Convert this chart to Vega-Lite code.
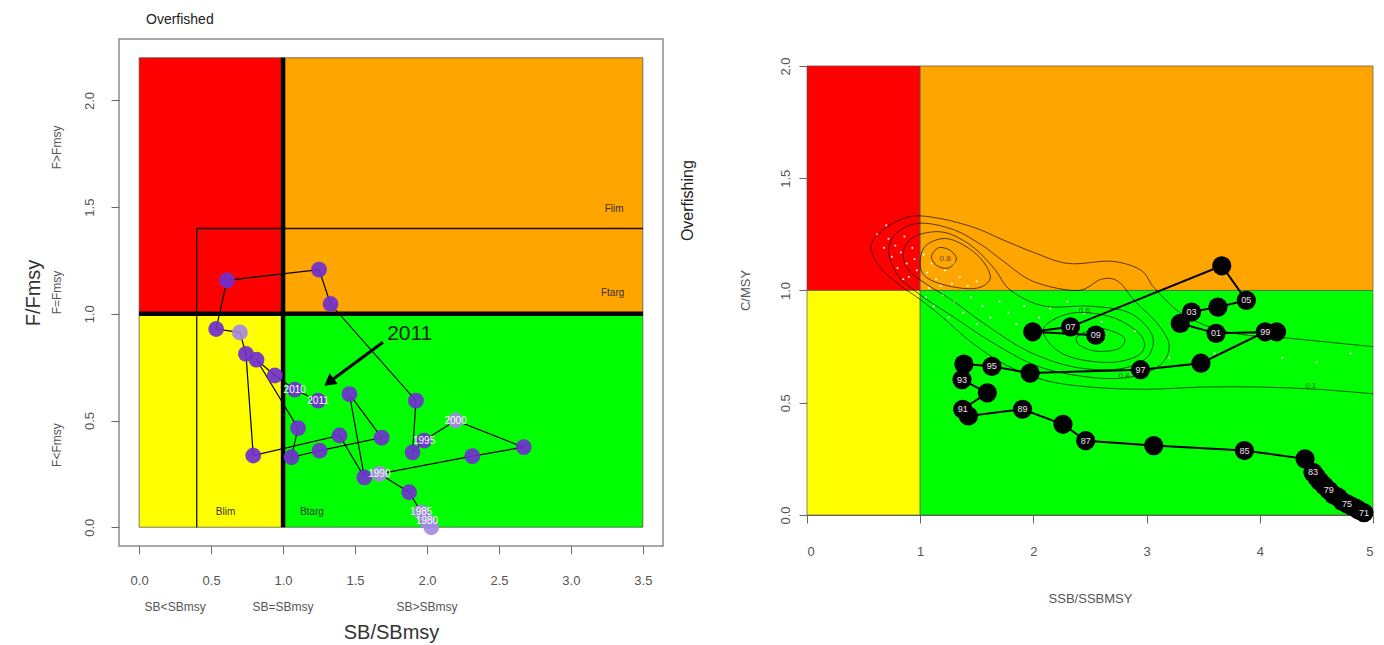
{
  "$schema": "https://vega.github.io/schema/vega-lite/v6.json",
  "background": "white",
  "padding": {"left": 22, "top": 12, "right": 0, "bottom": 0},
  "spacing": 16,
  "config": {
    "font": "Liberation Sans",
    "view": {"stroke": null},
    "axis": {"grid": false, "labelFont": "Liberation Sans", "titleFont": "Liberation Sans"},
    "title": {"font": "Liberation Sans"}
  },
  "datasets": {
    "leftPath": [
      {"ord": 1, "x": 2.03, "y": 0.0, "lab": "", "shade": "light"},
      {"ord": 2, "x": 2.0, "y": 0.03, "lab": "1980", "shade": "light"},
      {"ord": 3, "x": 1.96, "y": 0.07, "lab": "1985", "shade": "light"},
      {"ord": 4, "x": 1.876, "y": 0.164, "lab": "", "shade": "dark"},
      {"ord": 5, "x": 1.669, "y": 0.25, "lab": "1990", "shade": "light"},
      {"ord": 6, "x": 2.315, "y": 0.333, "lab": "", "shade": "dark"},
      {"ord": 7, "x": 2.672, "y": 0.375, "lab": "", "shade": "dark"},
      {"ord": 8, "x": 2.199, "y": 0.5, "lab": "2000", "shade": "light"},
      {"ord": 9, "x": 1.98, "y": 0.406, "lab": "1995", "shade": "dark"},
      {"ord": 10, "x": 1.9, "y": 0.351, "lab": "", "shade": "dark"},
      {"ord": 11, "x": 1.923, "y": 0.593, "lab": "", "shade": "dark"},
      {"ord": 12, "x": 1.33, "y": 1.046, "lab": "", "shade": "dark"},
      {"ord": 13, "x": 1.25, "y": 1.207, "lab": "", "shade": "dark"},
      {"ord": 14, "x": 0.61, "y": 1.157, "lab": "", "shade": "dark"},
      {"ord": 15, "x": 0.535, "y": 0.929, "lab": "", "shade": "dark"},
      {"ord": 16, "x": 0.7, "y": 0.913, "lab": "", "shade": "light"},
      {"ord": 17, "x": 0.742, "y": 0.812, "lab": "", "shade": "dark"},
      {"ord": 18, "x": 0.793, "y": 0.336, "lab": "", "shade": "dark"},
      {"ord": 19, "x": 1.392, "y": 0.43, "lab": "", "shade": "dark"},
      {"ord": 20, "x": 1.565, "y": 0.234, "lab": "", "shade": "dark"},
      {"ord": 21, "x": 1.461, "y": 0.624, "lab": "", "shade": "dark"},
      {"ord": 22, "x": 1.685, "y": 0.42, "lab": "", "shade": "dark"},
      {"ord": 23, "x": 1.254, "y": 0.359, "lab": "", "shade": "dark"},
      {"ord": 24, "x": 1.058, "y": 0.328, "lab": "", "shade": "dark"},
      {"ord": 25, "x": 1.104, "y": 0.464, "lab": "", "shade": "dark"},
      {"ord": 26, "x": 0.816, "y": 0.785, "lab": "", "shade": "dark"},
      {"ord": 27, "x": 0.943, "y": 0.711, "lab": "", "shade": "dark"},
      {"ord": 28, "x": 1.081, "y": 0.645, "lab": "2010", "shade": "dark"},
      {"ord": 29, "x": 1.243, "y": 0.593, "lab": "2011", "shade": "dark"}
    ],
    "rightPath": [
      {"yr": 1971, "x": 4.92, "y": 0.01, "lab": "71"},
      {"yr": 1972, "x": 4.88, "y": 0.02, "lab": ""},
      {"yr": 1973, "x": 4.85, "y": 0.03, "lab": ""},
      {"yr": 1974, "x": 4.81, "y": 0.04, "lab": ""},
      {"yr": 1975, "x": 4.77, "y": 0.05, "lab": "75"},
      {"yr": 1976, "x": 4.73, "y": 0.06, "lab": ""},
      {"yr": 1977, "x": 4.69, "y": 0.08, "lab": ""},
      {"yr": 1978, "x": 4.65, "y": 0.09, "lab": ""},
      {"yr": 1979, "x": 4.61, "y": 0.11, "lab": "79"},
      {"yr": 1980, "x": 4.57, "y": 0.13, "lab": ""},
      {"yr": 1981, "x": 4.53, "y": 0.15, "lab": ""},
      {"yr": 1982, "x": 4.5, "y": 0.17, "lab": ""},
      {"yr": 1983, "x": 4.47, "y": 0.19, "lab": "83"},
      {"yr": 1984, "x": 4.4, "y": 0.25, "lab": ""},
      {"yr": 1985, "x": 3.864, "y": 0.287, "lab": "85"},
      {"yr": 1986, "x": 3.063, "y": 0.309, "lab": ""},
      {"yr": 1987, "x": 2.462, "y": 0.331, "lab": "87"},
      {"yr": 1988, "x": 2.261, "y": 0.404, "lab": ""},
      {"yr": 1989, "x": 1.904, "y": 0.471, "lab": "89"},
      {"yr": 1990, "x": 1.426, "y": 0.441, "lab": ""},
      {"yr": 1991, "x": 1.376, "y": 0.471, "lab": "91"},
      {"yr": 1992, "x": 1.593, "y": 0.544, "lab": ""},
      {"yr": 1993, "x": 1.369, "y": 0.603, "lab": "93"},
      {"yr": 1994, "x": 1.386, "y": 0.672, "lab": ""},
      {"yr": 1995, "x": 1.633, "y": 0.662, "lab": "95"},
      {"yr": 1996, "x": 1.971, "y": 0.632, "lab": ""},
      {"yr": 1997, "x": 2.946, "y": 0.647, "lab": "97"},
      {"yr": 1998, "x": 3.48, "y": 0.676, "lab": ""},
      {"yr": 1999, "x": 4.048, "y": 0.816, "lab": "99"},
      {"yr": 2000, "x": 4.148, "y": 0.816, "lab": ""},
      {"yr": 2001, "x": 3.614, "y": 0.809, "lab": "01"},
      {"yr": 2002, "x": 3.297, "y": 0.853, "lab": ""},
      {"yr": 2003, "x": 3.397, "y": 0.904, "lab": "03"},
      {"yr": 2004, "x": 3.63, "y": 0.926, "lab": ""},
      {"yr": 2005, "x": 3.881, "y": 0.956, "lab": "05"},
      {"yr": 2006, "x": 3.664, "y": 1.11, "lab": ""},
      {"yr": 2007, "x": 2.328, "y": 0.838, "lab": "07"},
      {"yr": 2008, "x": 1.994, "y": 0.816, "lab": ""},
      {"yr": 2009, "x": 2.551, "y": 0.801, "lab": "09"}
    ],
    "outer": [
      {"o": 1, "x": 5.0, "y": 0.75}, {"o": 2, "x": 4.6, "y": 0.77}, {"o": 3, "x": 4.2, "y": 0.79},
      {"o": 4, "x": 3.9, "y": 0.8}, {"o": 5, "x": 3.6, "y": 0.83}, {"o": 6, "x": 3.3, "y": 0.9},
      {"o": 7, "x": 3.07, "y": 1.01}, {"o": 8, "x": 2.95, "y": 1.09}, {"o": 9, "x": 2.69, "y": 1.13},
      {"o": 10, "x": 2.31, "y": 1.12}, {"o": 11, "x": 2.0, "y": 1.17}, {"o": 12, "x": 1.71, "y": 1.23},
      {"o": 13, "x": 1.48, "y": 1.28}, {"o": 14, "x": 1.18, "y": 1.32}, {"o": 15, "x": 0.92, "y": 1.33},
      {"o": 16, "x": 0.7, "y": 1.28}, {"o": 17, "x": 0.565, "y": 1.2}, {"o": 18, "x": 0.65, "y": 1.1},
      {"o": 19, "x": 0.83, "y": 1.02}, {"o": 20, "x": 1.0, "y": 0.96}, {"o": 21, "x": 1.2, "y": 0.88},
      {"o": 22, "x": 1.45, "y": 0.77}, {"o": 23, "x": 1.75, "y": 0.67}, {"o": 24, "x": 2.1, "y": 0.6},
      {"o": 25, "x": 2.5, "y": 0.57}, {"o": 26, "x": 3.0, "y": 0.56}, {"o": 27, "x": 3.5, "y": 0.57},
      {"o": 28, "x": 4.0, "y": 0.57}, {"o": 29, "x": 4.5, "y": 0.56}, {"o": 30, "x": 5.0, "y": 0.54}
    ],
    "loops": [
      {"cid": "a", "o": 1, "x": 0.72, "y": 1.18}, {"cid": "a", "o": 2, "x": 0.8, "y": 1.26},
      {"cid": "a", "o": 3, "x": 1.0, "y": 1.3}, {"cid": "a", "o": 4, "x": 1.3, "y": 1.27},
      {"cid": "a", "o": 5, "x": 1.55, "y": 1.2}, {"cid": "a", "o": 6, "x": 1.71, "y": 1.14},
      {"cid": "a", "o": 7, "x": 2.0, "y": 1.04}, {"cid": "a", "o": 8, "x": 2.39, "y": 1.0},
      {"cid": "a", "o": 9, "x": 2.6, "y": 1.05}, {"cid": "a", "o": 10, "x": 2.75, "y": 1.04},
      {"cid": "a", "o": 11, "x": 2.9, "y": 0.95}, {"cid": "a", "o": 12, "x": 3.1, "y": 0.85},
      {"cid": "a", "o": 13, "x": 3.2, "y": 0.75}, {"cid": "a", "o": 14, "x": 3.1, "y": 0.66},
      {"cid": "a", "o": 15, "x": 2.8, "y": 0.61}, {"cid": "a", "o": 16, "x": 2.4, "y": 0.62},
      {"cid": "a", "o": 17, "x": 2.0, "y": 0.67}, {"cid": "a", "o": 18, "x": 1.6, "y": 0.78},
      {"cid": "a", "o": 19, "x": 1.3, "y": 0.88}, {"cid": "a", "o": 20, "x": 1.0, "y": 0.98},
      {"cid": "a", "o": 21, "x": 0.8, "y": 1.07},
      {"cid": "b", "o": 1, "x": 0.85, "y": 1.17}, {"cid": "b", "o": 2, "x": 0.95, "y": 1.24},
      {"cid": "b", "o": 3, "x": 1.2, "y": 1.26}, {"cid": "b", "o": 4, "x": 1.45, "y": 1.2},
      {"cid": "b", "o": 5, "x": 1.65, "y": 1.1}, {"cid": "b", "o": 6, "x": 1.8, "y": 1.0},
      {"cid": "b", "o": 7, "x": 2.1, "y": 0.93}, {"cid": "b", "o": 8, "x": 2.5, "y": 0.93},
      {"cid": "b", "o": 9, "x": 2.85, "y": 0.9}, {"cid": "b", "o": 10, "x": 3.05, "y": 0.8},
      {"cid": "b", "o": 11, "x": 3.0, "y": 0.7}, {"cid": "b", "o": 12, "x": 2.75, "y": 0.65},
      {"cid": "b", "o": 13, "x": 2.35, "y": 0.66}, {"cid": "b", "o": 14, "x": 1.95, "y": 0.73},
      {"cid": "b", "o": 15, "x": 1.6, "y": 0.84}, {"cid": "b", "o": 16, "x": 1.3, "y": 0.95},
      {"cid": "b", "o": 17, "x": 1.05, "y": 1.03}, {"cid": "b", "o": 18, "x": 0.9, "y": 1.09},
      {"cid": "c", "o": 1, "x": 1.0, "y": 1.12}, {"cid": "c", "o": 2, "x": 1.05, "y": 1.2},
      {"cid": "c", "o": 3, "x": 1.25, "y": 1.23}, {"cid": "c", "o": 4, "x": 1.5, "y": 1.16},
      {"cid": "c", "o": 5, "x": 1.62, "y": 1.06}, {"cid": "c", "o": 6, "x": 1.5, "y": 1.01},
      {"cid": "c", "o": 7, "x": 1.25, "y": 1.02}, {"cid": "c", "o": 8, "x": 1.05, "y": 1.06},
      {"cid": "d", "o": 1, "x": 1.1, "y": 1.15}, {"cid": "d", "o": 2, "x": 1.16, "y": 1.19},
      {"cid": "d", "o": 3, "x": 1.26, "y": 1.18}, {"cid": "d", "o": 4, "x": 1.32, "y": 1.14},
      {"cid": "d", "o": 5, "x": 1.25, "y": 1.1}, {"cid": "d", "o": 6, "x": 1.15, "y": 1.11},
      {"cid": "e", "o": 1, "x": 2.1, "y": 0.84}, {"cid": "e", "o": 2, "x": 2.35, "y": 0.9},
      {"cid": "e", "o": 3, "x": 2.7, "y": 0.88}, {"cid": "e", "o": 4, "x": 2.95, "y": 0.8},
      {"cid": "e", "o": 5, "x": 2.95, "y": 0.72}, {"cid": "e", "o": 6, "x": 2.7, "y": 0.68},
      {"cid": "e", "o": 7, "x": 2.35, "y": 0.7}, {"cid": "e", "o": 8, "x": 2.15, "y": 0.76},
      {"cid": "f", "o": 1, "x": 2.4, "y": 0.8}, {"cid": "f", "o": 2, "x": 2.6, "y": 0.83},
      {"cid": "f", "o": 3, "x": 2.8, "y": 0.79}, {"cid": "f", "o": 4, "x": 2.75, "y": 0.74},
      {"cid": "f", "o": 5, "x": 2.55, "y": 0.73}, {"cid": "f", "o": 6, "x": 2.4, "y": 0.76}
    ],
    "dots": [
      {"x": 0.62, "y": 1.25}, {"x": 0.68, "y": 1.19}, {"x": 0.72, "y": 1.23}, {"x": 0.75, "y": 1.15},
      {"x": 0.78, "y": 1.2}, {"x": 0.8, "y": 1.1}, {"x": 0.83, "y": 1.17}, {"x": 0.86, "y": 1.24},
      {"x": 0.88, "y": 1.12}, {"x": 0.9, "y": 1.06}, {"x": 0.93, "y": 1.19}, {"x": 0.95, "y": 1.14},
      {"x": 0.97, "y": 1.09}, {"x": 0.7, "y": 1.29}, {"x": 0.85, "y": 1.05},
      {"x": 1.03, "y": 1.16}, {"x": 1.06, "y": 1.08}, {"x": 1.1, "y": 1.12}, {"x": 1.14, "y": 1.05},
      {"x": 1.18, "y": 1.02}, {"x": 1.22, "y": 1.09}, {"x": 1.28, "y": 1.03}, {"x": 1.35, "y": 1.06},
      {"x": 1.42, "y": 1.02}, {"x": 1.5, "y": 1.04}, {"x": 1.08, "y": 1.01}, {"x": 1.3, "y": 1.12},
      {"x": 1.05, "y": 0.97}, {"x": 1.12, "y": 0.93}, {"x": 1.2, "y": 0.98}, {"x": 1.3, "y": 0.95},
      {"x": 1.38, "y": 0.9}, {"x": 1.45, "y": 0.97}, {"x": 1.55, "y": 0.93}, {"x": 1.62, "y": 0.88},
      {"x": 1.7, "y": 0.95}, {"x": 1.78, "y": 0.9}, {"x": 1.85, "y": 0.85}, {"x": 1.92, "y": 0.93},
      {"x": 2.05, "y": 0.88}, {"x": 2.15, "y": 0.92}, {"x": 2.3, "y": 0.95}, {"x": 2.45, "y": 0.9},
      {"x": 2.6, "y": 0.86}, {"x": 1.5, "y": 0.85}, {"x": 1.25, "y": 0.88},
      {"x": 2.9, "y": 0.82}, {"x": 3.2, "y": 0.7}, {"x": 3.6, "y": 0.72}, {"x": 4.2, "y": 0.7},
      {"x": 4.5, "y": 0.68}, {"x": 4.8, "y": 0.72}
    ]
  },
  "hconcat": [
    {
      "width": 544,
      "height": 507,
      "view": {"stroke": "#8a8a8a", "strokeWidth": 1.5},
      "title": {"text": "Overfished", "anchor": "start", "frame": "group", "fontSize": 14, "fontWeight": "normal", "color": "#222", "dx": 27, "offset": 12},
      "encoding": {
        "x": {
          "field": "x", "type": "quantitative",
          "scale": {"domain": [-0.14, 3.64], "nice": false, "zero": false},
          "axis": {"title": "SB/SBmsy", "values": [0, 0.5, 1, 1.5, 2, 2.5, 3, 3.5], "format": ".1f", "domain": false,
                   "tickSize": 8, "tickColor": "#666", "labelColor": "#555", "labelFontSize": 13, "labelPadding": 20,
                   "titleFontSize": 20, "titleColor": "#333", "titleFontWeight": "normal", "titlePadding": 35}
        },
        "y": {
          "field": "y", "type": "quantitative",
          "scale": {"domain": [-0.088, 2.288], "nice": false, "zero": false},
          "axis": {"title": "F/Fmsy", "values": [0, 0.5, 1, 1.5, 2], "format": ".1f", "domain": false,
                   "tickSize": 8, "tickColor": "#666", "labelColor": "#555", "labelFontSize": 13, "labelAngle": 270, "labelPadding": 15,
                   "titleFontSize": 20, "titleColor": "#333", "titleFontWeight": "normal", "titlePadding": 40}
        }
      },
      "layer": [
        {
          "data": {"values": [
            {"x": 0, "x2": 1, "y": 1, "y2": 2.2, "zone": "red"},
            {"x": 1, "x2": 3.5, "y": 1, "y2": 2.2, "zone": "orange"},
            {"x": 0, "x2": 1, "y": 0, "y2": 1, "zone": "yellow"},
            {"x": 1, "x2": 3.5, "y": 0, "y2": 1, "zone": "green"}
          ]},
          "mark": {"type": "rect", "stroke": "#555", "strokeWidth": 0.8},
          "encoding": {
            "x2": {"field": "x2"}, "y2": {"field": "y2"},
            "color": {"field": "zone", "type": "nominal", "scale": {"domain": ["red", "orange", "yellow", "green"], "range": ["#ff0000", "#ffa500", "#ffff00", "#00ff00"]}, "legend": null}
          }
        },
        {
          "data": {"values": [{"x": 0.4, "y": 0, "x2": 0.4, "y2": 1.4}, {"x": 0.4, "y": 1.4, "x2": 3.5, "y2": 1.4}]},
          "mark": {"type": "rule", "color": "#111", "strokeWidth": 1.3},
          "encoding": {"x2": {"field": "x2"}, "y2": {"field": "y2"}}
        },
        {
          "data": {"values": [{"x": 1, "y": 0, "x2": 1, "y2": 2.2}, {"x": 0, "y": 1, "x2": 3.5, "y2": 1}]},
          "mark": {"type": "rule", "color": "#000", "strokeWidth": 4.5},
          "encoding": {"x2": {"field": "x2"}, "y2": {"field": "y2"}}
        },
        {
          "data": {"values": [
            {"x": 0.6, "y": 0.07, "t": "Blim"}, {"x": 1.2, "y": 0.07, "t": "Btarg"},
            {"x": 3.3, "y": 1.49, "t": "Flim"}, {"x": 3.29, "y": 1.1, "t": "Ftarg"}
          ]},
          "mark": {"type": "text", "fontSize": 10, "color": "#333"},
          "encoding": {"text": {"field": "t"}}
        },
        {
          "data": {"name": "leftPath"},
          "mark": {"type": "line", "color": "#000", "strokeWidth": 1.2},
          "encoding": {"order": {"field": "ord", "type": "quantitative"}}
        },
        {
          "data": {"name": "leftPath"},
          "mark": {"type": "circle", "size": 250, "opacity": 0.92},
          "encoding": {"fill": {"field": "shade", "type": "nominal", "scale": {"domain": ["dark", "light"], "range": ["#7030d0", "#a58ae2"]}, "legend": null}}
        },
        {
          "data": {"name": "leftPath"},
          "transform": [{"filter": "datum.lab != ''"}],
          "mark": {"type": "text", "color": "#ffffff", "fontSize": 10},
          "encoding": {"text": {"field": "lab"}}
        },
        {
          "data": {"values": [{"x": 1.694, "y": 0.867, "x2": 1.34, "y2": 0.69}]},
          "mark": {"type": "rule", "color": "#000", "strokeWidth": 3},
          "encoding": {"x2": {"field": "x2"}, "y2": {"field": "y2"}}
        },
        {
          "data": {"values": [{"x": 1.33, "y": 0.685}]},
          "mark": {"type": "point", "shape": "triangle", "angle": 233, "size": 180, "filled": true, "color": "#000", "opacity": 1}
        },
        {
          "data": {"values": [{"x": 1.88, "y": 0.904, "t": "2011"}]},
          "mark": {"type": "text", "fontSize": 21, "color": "#222"},
          "encoding": {"text": {"field": "t"}}
        },
        {
          "data": {"values": [
            {"x": -0.57, "y": 1.78, "t": "F>Fmsy"}, {"x": -0.57, "y": 1.1, "t": "F=Fmsy"}, {"x": -0.57, "y": 0.385, "t": "F<Fmsy"}
          ]},
          "mark": {"type": "text", "angle": 270, "fontSize": 12, "color": "#555"},
          "encoding": {"text": {"field": "t"}}
        },
        {
          "data": {"values": [
            {"x": 0.25, "y": -0.375, "t": "SB<SBmsy"}, {"x": 1.0, "y": -0.375, "t": "SB=SBmsy"}, {"x": 2.0, "y": -0.375, "t": "SB>SBmsy"}
          ]},
          "mark": {"type": "text", "fontSize": 12, "color": "#555"},
          "encoding": {"text": {"field": "t"}}
        }
      ]
    },
    {
      "width": 566,
      "height": 476,
      "encoding": {
        "x": {
          "field": "x", "type": "quantitative",
          "scale": {"domain": [0, 5], "nice": false, "zero": false},
          "axis": {"title": "SSB/SSBMSY", "values": [0, 1, 2, 3, 4, 5], "format": "d", "domainColor": "#666",
                   "tickSize": 8, "tickColor": "#666", "labelColor": "#555", "labelFontSize": 13, "labelPadding": 22,
                   "titleFontSize": 13, "titleColor": "#555", "titleFontWeight": "normal", "titlePadding": 34}
        },
        "y": {
          "field": "y", "type": "quantitative",
          "scale": {"domain": [0, 2.12], "nice": false, "zero": false},
          "axis": {"title": null, "values": [0, 0.5, 1, 1.5, 2], "format": ".1f", "domain": false,
                   "tickSize": 8, "tickColor": "#666", "labelColor": "#555", "labelFontSize": 13, "labelAngle": 270, "labelPadding": 7}
        }
      },
      "layer": [
        {
          "data": {"values": [
            {"x": 0, "x2": 1, "y": 1, "y2": 2, "zone": "red"},
            {"x": 1, "x2": 5, "y": 1, "y2": 2, "zone": "orange"},
            {"x": 0, "x2": 1, "y": 0, "y2": 1, "zone": "yellow"},
            {"x": 1, "x2": 5, "y": 0, "y2": 1, "zone": "green"}
          ]},
          "mark": {"type": "rect", "stroke": "#555", "strokeWidth": 0.7},
          "encoding": {
            "x2": {"field": "x2"}, "y2": {"field": "y2"},
            "color": {"field": "zone", "type": "nominal", "scale": {"domain": ["red", "orange", "yellow", "green"], "range": ["#ff0000", "#ffa500", "#ffff00", "#00ff00"]}, "legend": null}
          }
        },
        {
          "data": {"name": "dots"},
          "mark": {"type": "circle", "size": 5, "color": "#ffffff", "opacity": 0.85}
        },
        {
          "data": {"name": "outer"},
          "mark": {"type": "line", "color": "#000", "strokeWidth": 1, "opacity": 0.65, "interpolate": "cardinal"},
          "encoding": {"order": {"field": "o", "type": "quantitative"}}
        },
        {
          "data": {"name": "loops"},
          "mark": {"type": "line", "color": "#000", "strokeWidth": 1, "opacity": 0.65, "interpolate": "cardinal-closed"},
          "encoding": {"order": {"field": "o", "type": "quantitative"}, "detail": {"field": "cid", "type": "nominal"}}
        },
        {
          "data": {"values": [
            {"x": 4.45, "y": 0.575, "t": "0.1"}, {"x": 2.8, "y": 0.62, "t": "0.4"},
            {"x": 2.45, "y": 0.91, "t": "0.6"}, {"x": 1.22, "y": 1.14, "t": "0.8"}
          ]},
          "mark": {"type": "text", "fontSize": 8, "color": "#333", "opacity": 0.8},
          "encoding": {"text": {"field": "t"}}
        },
        {
          "data": {"name": "rightPath"},
          "mark": {"type": "line", "color": "#000", "strokeWidth": 2},
          "encoding": {"order": {"field": "yr", "type": "quantitative"}}
        },
        {
          "data": {"name": "rightPath"},
          "mark": {"type": "circle", "size": 370, "color": "#000", "opacity": 1}
        },
        {
          "data": {"name": "rightPath"},
          "transform": [{"filter": "datum.lab != ''"}],
          "mark": {"type": "text", "color": "#f5e0f5", "fontSize": 9},
          "encoding": {"text": {"field": "lab"}}
        },
        {
          "data": {"values": [{"x": -0.54, "y": 1.0, "t": "C/MSY"}]},
          "mark": {"type": "text", "angle": 270, "fontSize": 13, "color": "#555"},
          "encoding": {"text": {"field": "t"}}
        },
        {
          "data": {"values": [{"x": -1.05, "y": 1.4, "t": "Overfishing"}]},
          "mark": {"type": "text", "angle": 270, "fontSize": 16, "color": "#222"},
          "encoding": {"text": {"field": "t"}}
        }
      ]
    }
  ]
}
